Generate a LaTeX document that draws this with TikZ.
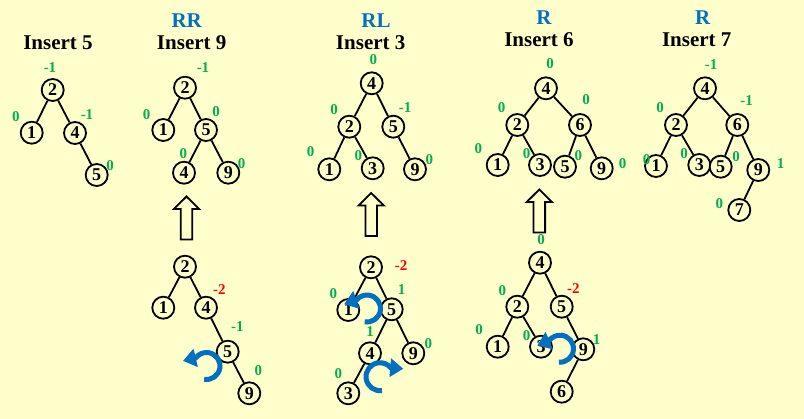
\documentclass[tikz,border=0pt]{standalone}
\usepackage{fontspec}
\setmainfont{Liberation Serif}
\usetikzlibrary{arrows.meta}
\definecolor{bg}{HTML}{FFFFCC}
\definecolor{gr}{HTML}{00B050}
\definecolor{bl}{HTML}{0070C0}
\definecolor{rd}{HTML}{FF0000}
\tikzset{
 nd/.style={circle,draw,fill=bg,line width=1.8pt,minimum size=22pt,inner sep=0pt,font=\fontsize{18}{18}\selectfont\bfseries},
 bf/.style={font=\fontsize{15}{15}\selectfont\bfseries,text=gr,inner sep=0pt},
 bfr/.style={bf,text=rd},
 ttl/.style={font=\fontsize{21}{21}\selectfont\bfseries,inner sep=0pt},
 ttlb/.style={ttl,text=bl},
 ed/.style={line width=1.8pt},
 rot/.style={line width=5pt,draw=bl,-{Triangle[length=13pt,width=18pt]}},
 uparrow/.pic={\draw[line width=1.8pt] (-5.8,43) -- (-5.8,12.5) -- (-12.6,12.5) -- (0,0) -- (12.6,12.5) -- (5.8,12.5) -- (5.8,43) -- cycle;}
}
\begin{document}
\begin{tikzpicture}[x=1pt,y=-1pt]
\path[fill=bg] (0,0) rectangle (804,419);
\useasboundingbox (0,0) rectangle (804,419);

% titles
\node[ttl] (t1) at (58,43) {Insert 5};
\node[ttlb] (r2) at (186.7,20.7) {RR};
\node[ttl] (t2) at (191.7,42.7) {Insert 9};
\node[ttlb] (r3) at (376,20.7) {RL};
\node[ttl] (t3) at (370.7,42.7) {Insert 3};
\node[ttlb] (r4) at (544,17.3) {R};
\node[ttl] (t4) at (539,40) {Insert 6};
\node[ttlb] (r5) at (702.7,17.3) {R};
\node[ttl] (t5) at (696.7,40) {Insert 7};

% Tree A
\node[nd] (a2) at (52.7,90) {2};
\node[nd] (a1) at (31.7,132.7) {1};
\node[nd] (a4) at (75,133) {4};
\node[nd] (a5) at (96.7,175) {5};
\draw[ed] (a2)--(a1); \draw[ed] (a2)--(a4); \draw[ed] (a4)--(a5);
\node[bf] (la2) at (50,68) {-1};
\node[bf] (la1) at (16,117) {0};
\node[bf] (la4) at (87,115) {-1};
\node[bf] (la5) at (110,166) {0};

% Tree B top
\node[nd] (b2) at (185,87.7) {2};
\node[nd] (b1) at (163.3,130) {1};
\node[nd] (b5) at (206,130) {5};
\node[nd] (b4) at (184,172.7) {4};
\node[nd] (b9) at (228.3,172.7) {9};
\draw[ed] (b2)--(b1); \draw[ed] (b2)--(b5); \draw[ed] (b5)--(b4); \draw[ed] (b5)--(b9);
\node[bf] (lb2) at (203,68) {-1};
\node[bf] (lb1) at (146.7,115) {0};
\node[bf] (lb5) at (216,111.7) {0};
\node[bf] (lb4) at (183.3,153.3) {0};
\node[bf] (lb9) at (241.7,163.3) {0};

% Tree B bottom
\node[nd] (c2) at (185,266.7) {2};
\node[nd] (c1) at (163.3,307.7) {1};
\node[nd] (c4) at (206,307.7) {4};
\node[nd] (c5) at (227.7,351.7) {5};
\node[nd] (c9) at (249.3,393.3) {9};
\draw[ed] (c2)--(c1); \draw[ed] (c2)--(c4); \draw[ed] (c4)--(c5); \draw[ed] (c5)--(c9);
\node[bfr] (lc4) at (219.3,289.3) {-2};
\node[bf] (lc5) at (237.3,326.7) {-1};
\node[bf] (lc9) at (258.3,371) {0};
\coordinate (k1) at (206.5,366);
\draw[rot] (k1) ++(100:13.5) arc[start angle=100,end angle=-143,radius=13.5] -- ++(-12.7,3);

% Tree C top
\node[nd] (d4) at (371.7,83.3) {4};
\node[nd] (d2) at (349.3,126.7) {2};
\node[nd] (d5) at (393.3,126.7) {5};
\node[nd] (d1) at (329.3,169.3) {1};
\node[nd] (d3) at (372.7,168.3) {3};
\node[nd] (d9) at (415,169.3) {9};
\draw[ed] (d4)--(d2); \draw[ed] (d4)--(d5); \draw[ed] (d2)--(d1); \draw[ed] (d2)--(d3); \draw[ed] (d5)--(d9);
\node[bf] (ld4) at (373.3,60) {0};
\node[bf] (ld2) at (334,110) {0};
\node[bf] (ld5) at (405,107.3) {-1};
\node[bf] (ld1) at (310.7,151.7) {0};
\node[bf] (ld3) at (358.3,156) {0};
\node[bf] (ld9) at (429.3,160) {0};

% Tree C bottom
\node[nd] (e2) at (371,267.3) {2};
\node[nd] (e1) at (348.3,310) {1};
\node[nd] (e5) at (391.7,309.3) {5};
\node[nd] (e4) at (370,353.3) {4};
\node[nd] (e9) at (413.3,353.3) {9};
\node[nd] (e3) at (348.3,393.3) {3};
\draw[ed] (e2)--(e1); \draw[ed] (e2)--(e5); \draw[ed] (e5)--(e4); \draw[ed] (e5)--(e9); \draw[ed] (e4)--(e3);
\node[bfr] (le2) at (401,266) {-2};
\node[bf] (le1) at (333.3,294) {0};
\node[bf] (le5) at (401.7,290) {1};
\node[bf] (le4) at (370,331.7) {1};
\node[bf] (le9) at (428.3,343.3) {0};
\node[bf] (le3) at (338.3,373.3) {0};
\coordinate (k2) at (367,308.5);
\draw[rot] (k2) ++(100:13.5) arc[start angle=100,end angle=-140,radius=13.5] -- ++(-12.5,4.5);
\coordinate (k3) at (380,376.7);
\draw[rot] (k3) ++(82:14) arc[start angle=82,end angle=320,radius=14] -- ++(12.5,1);

% Tree D top
\node[nd] (f4) at (546,88.3) {4};
\node[nd] (f2) at (517.3,125) {2};
\node[nd] (f6) at (580,125) {6};
\node[nd] (f1) at (497.7,165) {1};
\node[nd] (f3) at (540,165) {3};
\node[nd] (f5) at (565,166.7) {5};
\node[nd] (f9) at (601.7,168.3) {9};
\draw[ed] (f4)--(f2); \draw[ed] (f4)--(f6); \draw[ed] (f2)--(f1); \draw[ed] (f2)--(f3); \draw[ed] (f6)--(f5); \draw[ed] (f6)--(f9);
\node[bf] (lf4) at (550,64) {0};
\node[bf] (lf2) at (501.7,107.3) {0};
\node[bf] (lf6) at (586,100) {0};
\node[bf] (lf1) at (478.3,148.3) {0};
\node[bf] (lf3) at (526.7,153.3) {0};
\node[bf] (lf5) at (578.3,156) {0};
\node[bf] (lf9) at (622.7,164) {0};

% Tree D bottom
\node[nd] (g4) at (540,262.7) {4};
\node[nd] (g2) at (517.3,306.7) {2};
\node[nd] (g5) at (561.7,306.7) {5};
\node[nd] (g1) at (497.7,346.7) {1};
\node[nd] (g3) at (541,346.7) {3};
\node[nd] (g9) at (583.3,349.3) {9};
\node[nd] (g6) at (561.7,391.7) {6};
\draw[ed] (g4)--(g2); \draw[ed] (g4)--(g5); \draw[ed] (g2)--(g1); \draw[ed] (g2)--(g3); \draw[ed] (g5)--(g9); \draw[ed] (g9)--(g6);
\node[bf] (lg4) at (541,239.3) {0};
\node[bf] (lg2) at (502.3,290.7) {0};
\node[bfr] (lg5) at (573.3,288.3) {-2};
\node[bf] (lg1) at (479,330) {0};
\node[bf] (lg3) at (526.7,336) {0};
\node[bf] (lg9) at (596.7,339.3) {1};
\coordinate (k4) at (560,348.7);
\draw[rot] (k4) ++(95:13.5) arc[start angle=95,end angle=-143,radius=13.5] -- ++(-12,5);

% Tree E
\node[nd] (h4) at (705,88.3) {4};
\node[nd] (h2) at (676,125) {2};
\node[nd] (h6) at (737.3,125) {6};
\node[nd] (h1) at (656,166) {1};
\node[nd] (h3) at (699.3,165) {3};
\node[nd] (h5) at (720.7,166.7) {5};
\node[nd] (h9) at (758.3,170) {9};
\node[nd] (h7) at (739.3,210) {7};
\draw[ed] (h4)--(h2); \draw[ed] (h4)--(h6); \draw[ed] (h2)--(h1); \draw[ed] (h2)--(h3); \draw[ed] (h6)--(h5); \draw[ed] (h6)--(h9); \draw[ed] (h9)--(h7);
\node[bf] (lh4) at (711,65) {-1};
\node[bf] (lh2) at (660,107.3) {0};
\node[bf] (lh6) at (746.7,100.7) {-1};
\node[bf] (lh1) at (646.7,159.3) {0};
\node[bf] (lh3) at (684,154) {0};
\node[bf] (lh5) at (736,156.7) {0};
\node[bf] (lh9) at (780.7,164) {1};
\node[bf] (lh7) at (719.3,203.3) {0};

% hollow up arrows
\pic at (186.5,196.5) {uparrow};
\pic at (371.2,193) {uparrow};
\pic at (539.3,189.5) {uparrow};
\end{tikzpicture}
\end{document}
